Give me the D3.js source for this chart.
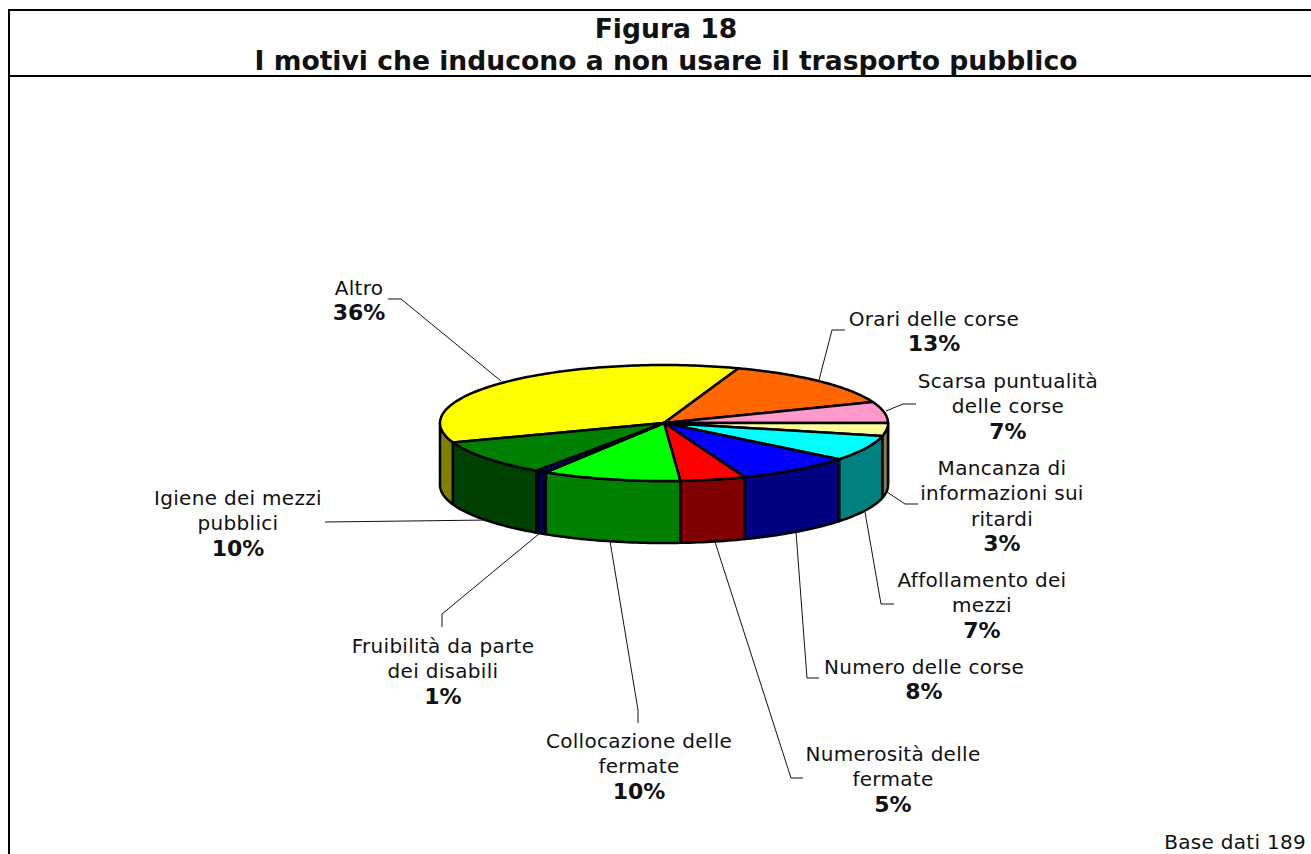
<!DOCTYPE html>
<html>
<head>
<meta charset="utf-8">
<script src="https://cdn.jsdelivr.net/npm/d3@7"></script>
<style>
body { margin: 0; background: #fff; }
svg { display: block; }
text { font-family: "DejaVu Sans", sans-serif; fill: #111; }
</style>
</head>
<body>
<script>
var categories = ["Altro", "Orari delle corse", "Scarsa puntualità delle corse", "Mancanza di informazioni sui ritardi",
	"Affollamento dei mezzi", "Numero delle corse", "Numerosità delle fermate", "Collocazione delle fermate",
	"Fruibilità da parte dei disabili", "Igiene dei mezzi pubblici"];
// printed percentages
var percents = [36, 13, 7, 3, 7, 8, 5, 10, 1, 10];
// share of the circle as actually drawn, read from the slice edges
var shares = [35.8, 13.7, 5.9, 3.6, 7.1, 8.4, 4.7, 10.0, 0.8, 9.9];
var topColors = ["#ffff00", "#ff6600", "#ff99cc", "#ffff99", "#00ffff", "#0000ff", "#ff0000", "#00ff00", "#000080", "#008000"];
var sideColors = ["#808000", "#803300", "#804d66", "#80804d", "#008080", "#000080", "#800000", "#008000", "#000040", "#004000"];
var labelLines = [["Altro"], ["Orari delle corse"], ["Scarsa puntualità", "delle corse"], ["Mancanza di", "informazioni sui", "ritardi"],
	["Affollamento dei", "mezzi"], ["Numero delle corse"], ["Numerosità delle", "fermate"], ["Collocazione delle", "fermate"],
	["Fruibilità da parte", "dei disabili"], ["Igiene dei mezzi", "pubblici"]];
var titleLines = ["Figura 18", "I motivi che inducono a non usare il trasporto pubblico"];
var baseNote = "Base dati 189";

// label anchors, first baseline
var labelX = [359, 934, 1008, 1002, 982, 924, 893, 639, 443, 238];
var labelY = [295, 326, 388, 475, 587, 674, 761, 748, 653, 505];
var lineStep = 25.3;
// leader polylines, label end first
var leaders = [
	[[388, 299], [401, 299], [501, 381]],
	[[845, 330], [832, 330], [819, 380]],
	[[916, 404], [903, 404], [886, 411]],
	[[918, 504], [905, 504], [887, 492]],
	[[894, 604], [881, 604], [865, 512]],
	[[819, 678], [807, 678], [796, 532]],
	[[803, 778], [791, 778], [715, 542]],
	[[638, 723], [638, 710], [610, 541]],
	[[442, 627], [442, 614], [540, 533]],
	[[325, 522], [490, 520]]
];

var width = 1311, height = 854;
var startAngle = -109.6 * Math.PI / 180; // clockwise from 12 o'clock
var depth = 62;

var svg = d3.select("body").append("svg")
	.attr("width", width)
	.attr("height", height);

// frame: left, top and header rule
svg.append("line").attr("x1", 9).attr("x2", 9).attr("y1", 9).attr("y2", height).style("stroke", "#000").style("stroke-width", 2);
svg.append("line").attr("x1", 8).attr("x2", width).attr("y1", 10).attr("y2", 10).style("stroke", "#000").style("stroke-width", 2);
svg.append("line").attr("x1", 8).attr("x2", width).attr("y1", 76).attr("y2", 76).style("stroke", "#000").style("stroke-width", 2);

svg.selectAll(".title").data(titleLines).enter().append("text")
	.attr("class", "title")
	.attr("x", 666)
	.attr("y", (d, i) => 38 + i * 32)
	.attr("text-anchor", "middle")
	.attr("font-size", "26.6px")
	.attr("font-weight", "bold")
	.text(d => d);

var sx = d3.scaleLinear().domain([-1, 1]).range([440, 888]);
var sy = d3.scaleLinear().domain([-1, 1]).range([365, 481]);

var pie = d3.pie().sort(null).value(d => d).startAngle(startAngle).endAngle(startAngle + 2 * Math.PI);
var slices = pie(shares);

function rim(a0, a1, dy) {
	var n = Math.max(2, Math.ceil((a1 - a0) / 0.02));
	return d3.range(n + 1).map(i => {
		var a = a0 + (a1 - a0) * i / n;
		return [sx(Math.sin(a)), sy(-Math.cos(a)) + dy];
	});
}

var line = d3.line();

// side walls, front half only (90 to 270 degrees clockwise from top)
var sides = [];
slices.forEach((s, i) => {
	[0, 2 * Math.PI, -2 * Math.PI].forEach(off => {
		var a0 = Math.max(s.startAngle + off, Math.PI / 2);
		var a1 = Math.min(s.endAngle + off, 3 * Math.PI / 2);
		if (a1 > a0) sides.push({ a0: a0, a1: a1, color: sideColors[i] });
	});
});

svg.selectAll(".side").data(sides).enter().append("path")
	.attr("class", "side")
	.attr("d", d => line(rim(d.a0, d.a1, 0).concat(rim(d.a0, d.a1, depth).reverse())) + "Z")
	.style("fill", d => d.color)
	.style("stroke", "#000")
	.style("stroke-width", 2.5)
	.style("stroke-linejoin", "round");

// top faces
svg.selectAll(".slice").data(slices).enter().append("path")
	.attr("class", "slice")
	.attr("d", d => line([[sx(0), sy(0)]].concat(rim(d.startAngle, d.endAngle, 0))) + "Z")
	.style("fill", (d, i) => topColors[i])
	.style("stroke", "#000")
	.style("stroke-width", 2.5)
	.style("stroke-linejoin", "round");

// leaders
svg.selectAll(".leader").data(leaders).enter().append("path")
	.attr("class", "leader")
	.attr("d", d => line(d))
	.style("fill", "none")
	.style("stroke", "#111")
	.style("stroke-width", 1);

// labels
var labels = svg.selectAll(".label").data(categories).enter().append("g").attr("class", "label");
labels.each(function (d, i) {
	var g = d3.select(this);
	var lines = labelLines[i];
	lines.forEach((t, k) => {
		g.append("text")
			.attr("x", labelX[i])
			.attr("y", labelY[i] + k * lineStep)
			.attr("text-anchor", "middle")
			.attr("font-size", "20px")
			.attr("letter-spacing", "0.3px")
			.text(t);
	});
	g.append("text")
		.attr("x", labelX[i])
		.attr("y", labelY[i] + lines.length * lineStep)
		.attr("text-anchor", "middle")
		.attr("font-size", "22px")
		.attr("font-weight", "bold")
		.text(percents[i] + "%");
});

svg.append("text")
	.attr("x", 1306)
	.attr("y", 849)
	.attr("text-anchor", "end")
	.attr("font-size", "20px")
	.attr("letter-spacing", "0.3px")
	.text(baseNote);
</script>
</body>
</html>
